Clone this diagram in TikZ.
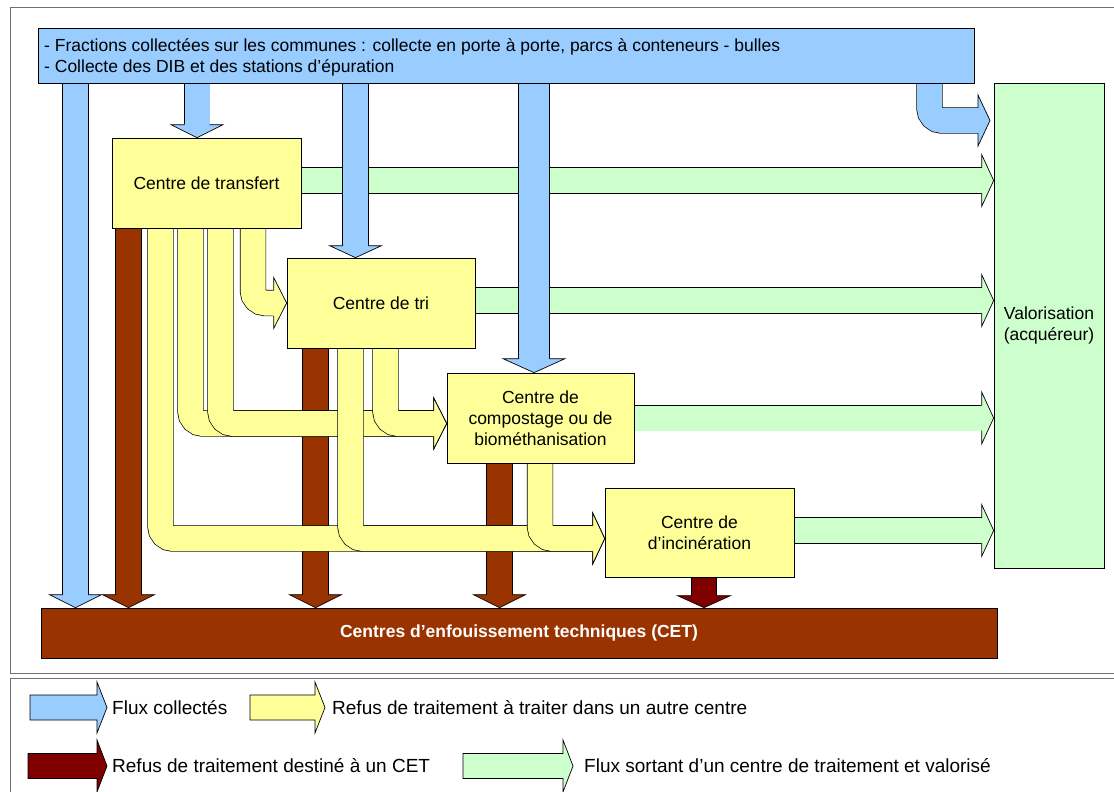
\documentclass[tikz,border=0pt]{standalone}
\usepackage{fontspec}
\setmainfont{Liberation Sans}
\usetikzlibrary{calc}
\pgfdeclarelayer{back}
\pgfdeclarelayer{bg}
\pgfsetlayers{back,bg,main}
\definecolor{cblue}{HTML}{99CCFF}
\definecolor{cyel}{HTML}{FFFF99}
\definecolor{cgreen}{HTML}{CCFFCC}
\definecolor{cbrown}{HTML}{993300}
\definecolor{cdred}{HTML}{800000}
\definecolor{cframe}{HTML}{707070}
% right-pointing head: colour, tip, body half, head half, length
\newcommand\hdR[5]{%
  \fill[#1] ($(#2)+(-#5-1,-#3)$) -- ($(#2)+(-#5,-#3)$) -- ($(#2)+(-#5,-#4)$) -- (#2)
     -- ($(#2)+(-#5,#4)$) -- ($(#2)+(-#5,#3)$) -- ($(#2)+(-#5-1,#3)$) -- cycle;
  \draw[outl] ($(#2)+(-#5,-#3)$) -- ($(#2)+(-#5,-#4)$) -- (#2) -- ($(#2)+(-#5,#4)$) -- ($(#2)+(-#5,#3)$);}
% down-pointing head
\newcommand\hdD[5]{%
  \fill[#1] ($(#2)+(-#3,-#5-1)$) -- ($(#2)+(-#3,-#5)$) -- ($(#2)+(-#4,-#5)$) -- (#2)
     -- ($(#2)+(#4,-#5)$) -- ($(#2)+(#3,-#5)$) -- ($(#2)+(#3,-#5-1)$) -- cycle;
  \draw[outl] ($(#2)+(-#3,-#5)$) -- ($(#2)+(-#4,-#5)$) -- (#2) -- ($(#2)+(#4,-#5)$) -- ($(#2)+(#3,-#5)$);}
% legend arrow: colour, x0, xbase, xtip, yc, body half, head half
\newcommand\legarrow[7]{%
  \filldraw[outl, fill=#1] (#2,#5-#6) -- (#3,#5-#6) -- (#3,#5-#7) -- (#4,#5) -- (#3,#5+#7)
     -- (#3,#5+#6) -- (#2,#5+#6) -- cycle;}
\begin{document}
\begin{tikzpicture}[x=1pt,y=-1pt,
  outl/.style={draw=black, line width=0.7pt, line join=miter},
  fat/.style={draw=black, line width=0.7pt, double=#1, double distance=25pt, rounded corners=12.5pt},
  ybox/.style={draw=black, line width=0.7pt, fill=cyel, inner sep=0pt, align=center,
     font=\fontsize{17.5}{21}\selectfont},
  legtext/.style={anchor=west, inner sep=0pt, font=\fontsize{19}{23}\selectfont}]
\useasboundingbox (0,0) rectangle (1114,792);
\begin{pgfonlayer}{back}
\fill[white] (0,0) rectangle (1114,792);
\end{pgfonlayer}
% frames
\draw[cframe, line width=1pt] (1115,8) -- (10,8) -- (10,673) -- (1115,673);
\draw[cframe, line width=1pt] (1115,678) -- (10,678) -- (10,793);
% nodes
\node[ybox, fill=cblue, minimum width=936pt, minimum height=55pt] (bar) at (506,55.5) {};
\node[anchor=west, inner sep=0pt, align=left, font=\fontsize{17.5}{21}\selectfont] (bartxt) at (44,57)
  {- Fractions collectées sur les communes : collecte en porte à porte, parcs à conteneurs - bulles\\
   - Collecte des DIB et des stations d’épuration};
\node[ybox, minimum width=189pt, minimum height=90pt] (trans) at (206.5,183) {Centre de transfert};
\node[ybox, minimum width=188pt, minimum height=90pt] (tri) at (381,303) {Centre de tri};
\node[ybox, minimum width=187pt, minimum height=90pt] (comp) at (540.5,418) {Centre de\\compostage ou de\\biométhanisation};
\node[ybox, minimum width=189pt, minimum height=89pt] (incin) at (699.5,532.5) {Centre de\\d’incinération};
\node[ybox, fill=cgreen, minimum width=110pt, minimum height=485pt] (valo) at (1049,325.5) {Valorisation\\(acquéreur)};
\node[ybox, fill=cbrown, text=white, font=\fontsize{17.5}{21}\selectfont\bfseries,
  minimum width=956pt, minimum height=50pt] (cet) at (519,633) {Centres d’enfouissement techniques (CET)};
\begin{pgfonlayer}{bg}
% green outputs
\coordinate (g1) at (valo.west |- 0,180.5);
\draw[fat=cgreen] (trans.east |- 0,180.5) -- ($(g1)+(-12,0)$); \hdR{cgreen}{g1}{12.5}{26}{12}
\coordinate (g2) at (valo.west |- 0,300.5);
\draw[fat=cgreen] (tri.east |- 0,300.5) -- ($(g2)+(-12,0)$); \hdR{cgreen}{g2}{12.5}{26}{12}
\coordinate (g3) at (valo.west |- 0,418);
\draw[fat=cgreen] (comp.east |- 0,418) -- ($(g3)+(-12,0)$); \hdR{cgreen}{g3}{12.5}{26}{12}
\coordinate (g4) at (valo.west |- 0,530.5);
\draw[fat=cgreen] (incin.east |- 0,530.5) -- ($(g4)+(-12,0)$); \hdR{cgreen}{g4}{12.5}{26}{12}
% blue collected flows
\coordinate (b1) at (cet.north -| 75.5,0);
\draw[fat=cblue] (bar.south -| 75.5,0) -- ($(b1)+(0,-13)$); \hdD{cblue}{b1}{12.5}{26}{13}
\coordinate (b2) at (trans.north -| 197,0);
\draw[fat=cblue] (bar.south -| 197,0) -- ($(b2)+(0,-13)$); \hdD{cblue}{b2}{12.5}{26}{13}
\coordinate (b3) at (tri.north -| 355.5,0);
\draw[fat=cblue] (bar.south -| 355.5,0) -- ($(b3)+(0,-12)$); \hdD{cblue}{b3}{12.5}{26}{12}
\coordinate (b4) at (comp.north -| 534,0);
\draw[fat=cblue, double distance=30pt] (bar.south -| 534,0) -- ($(b4)+(0,-14)$); \hdD{cblue}{b4}{15}{31}{14}
\coordinate (b5) at (990,120.5);
\draw[fat=cblue] (bar.south -| 929.5,0) |- ($(b5)+(-12,0)$); \hdR{cblue}{b5}{12.5}{25.5}{12}
% brown: to CET
\coordinate (r1) at (cet.north -| 128.5,0);
\draw[fat=cbrown] (trans.south -| 128.5,0) -- ($(r1)+(0,-13)$); \hdD{cbrown}{r1}{12.5}{26}{13}
\coordinate (r2) at (cet.north -| 315.5,0);
\draw[fat=cbrown] (tri.south -| 315.5,0) -- ($(r2)+(0,-13)$); \hdD{cbrown}{r2}{12.5}{26}{13}
\coordinate (r3) at (cet.north -| 499.5,0);
\draw[fat=cbrown] (comp.south -| 499.5,0) -- ($(r3)+(0,-13)$); \hdD{cbrown}{r3}{12.5}{26}{13}
\coordinate (r4) at (cet.north -| 704,0);
\draw[fat=cdred, double distance=24pt] (incin.south -| 704,0) -- ($(r4)+(0,-12)$); \hdD{cdred}{r4}{12}{26.5}{12}
% yellow: to another centre
\coordinate (yt) at (tri.west);
\coordinate (yc) at (comp.west |- 0,423.5);
\coordinate (yi) at (incin.west |- 0,538.5);
\draw[fat=cyel] (trans.south -| 253,0) |- ($(yt)+(-13,0)$); \hdR{cyel}{yt}{12.5}{25.5}{13}
\draw[fat=cyel] (trans.south -| 160.5,0) |- ($(yi)+(-12,0)$); \hdR{cyel}{yi}{12.5}{25.5}{12}
\draw[fat=cyel] (trans.south -| 190.5,0) |- ($(yc)+(-13,0)$); \hdR{cyel}{yc}{12.5}{25.5}{13}
\draw[fat=cyel] (trans.south -| 220.5,0) |- ($(yc)+(-13,0)$); \hdR{cyel}{yc}{12.5}{25.5}{13}
\draw[fat=cyel] (tri.south -| 385.5,0) |- ($(yc)+(-13,0)$); \hdR{cyel}{yc}{12.5}{25.5}{13}
\draw[fat=cyel] (tri.south -| 350.5,0) |- ($(yi)+(-12,0)$); \hdR{cyel}{yi}{12.5}{25.5}{12}
\draw[fat=cyel] (comp.south -| 540,0) |- ($(yi)+(-12,0)$); \hdR{cyel}{yi}{12.5}{25.5}{12}
\end{pgfonlayer}
% legend
\legarrow{cblue}{30}{97}{107}{707.5}{12.5}{25.5}
\node[legtext] (lt1) at (112,707.5) {Flux collectés};
\legarrow{cyel}{250}{315}{325}{707.5}{12.5}{25.5}
\node[legtext] (lt2) at (332,707.5) {Refus de traitement à traiter dans un autre centre};
\legarrow{cdred}{28}{97}{107}{766}{12.5}{26}
\node[legtext] (lt3) at (112,766) {Refus de traitement destiné à un CET};
\legarrow{cgreen}{463}{563}{573}{766}{12.5}{26}
\node[legtext] (lt4) at (584,766) {Flux sortant d’un centre de traitement et valorisé};
\end{tikzpicture}
\end{document}
